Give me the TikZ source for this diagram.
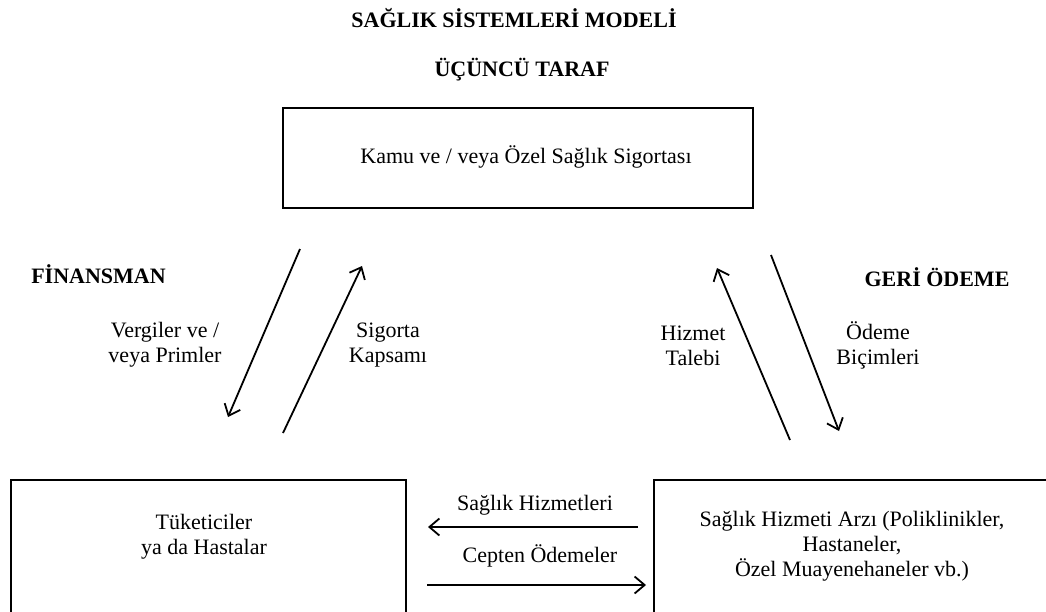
\documentclass[tikz,border=0pt]{standalone}
\usepackage{fontspec}
\setmainfont{Liberation Serif}
\usetikzlibrary{arrows.meta}

\begin{document}
\begin{tikzpicture}[x=1pt, y=-1pt, line width=1.8pt,
  txt/.style={font=\fontsize{22}{25}\selectfont, align=center, inner sep=0pt},
  head/.style={font=\fontsize{22}{25}\selectfont\bfseries, inner sep=0pt},
  box/.style={draw, line width=2pt, inner sep=0pt},
  flow/.style={-{Straight Barb[length=10pt, width=17pt, line width=1.8pt]}}]
\useasboundingbox (0,0) rectangle (1046,611);
\clip (0,0) rectangle (1046,611);

% headings
\node[head] (title) at (514,18) {SAĞLIK SİSTEMLERİ MODELİ};
\node[head] (third) at (522,70) {ÜÇÜNCÜ TARAF};
\node[head] (finance) at (98.5,274) {FİNANSMAN};
\node[head] (reimb) at (937,277) {GERİ ÖDEME};

% the three actors
\node[box, minimum width=470pt, minimum height=100pt] (insurer) at (518,158) {};
\node[txt] (insurertxt) at (526,157) {Kamu ve / veya Özel Sağlık Sigortası};

\node[box, minimum width=395pt, minimum height=160pt] (consumer) at (208.5,560) {};
\node[txt] (consumertxt) at (204,537) {Tüketiciler\\ya da Hastalar};

\node[box, minimum width=420pt, minimum height=160pt] (provider) at (864,560) {};
\node[txt] (providertxt) at (852,546) {Sağlık Hizmeti Arzı (Poliklinikler,\\Hastaneler,\\Özel Muayenehaneler vb.)};

% connector end points
\coordinate (taxA) at (300,249);
\coordinate (taxB) at (228,417);
\coordinate (covA) at (283,433);
\coordinate (covB) at (362,266);
\coordinate (demA) at (790,440);
\coordinate (demB) at (717,268);
\coordinate (payA) at (771,255);
\coordinate (payB) at (839,431);
\coordinate (svcA) at (638,527);
\coordinate (svcB) at (428,527);
\coordinate (oopA) at (427,585);
\coordinate (oopB) at (646,585);

% flows
\draw[flow] (taxA) -- (taxB);
\draw[flow] (covA) -- (covB);
\draw[flow] (demA) -- (demB);
\draw[flow] (payA) -- (payB);
\draw[flow] (svcA) -- (svcB);
\draw[flow] (oopA) -- (oopB);

% flow labels
\node[txt] (taxlbl) at (165,345) {Vergiler ve /\\veya Primler};
\node[txt] (covlbl) at (388,345) {Sigorta\\Kapsamı};
\node[txt] (demlbl) at (693,346) {Hizmet\\Talebi};
\node[txt] (paylbl) at (878,345) {Ödeme\\Biçimleri};
\node[txt] (svclbl) at (535,505) {Sağlık Hizmetleri};
\node[txt] (ooplbl) at (540,556) {Cepten Ödemeler};
\end{tikzpicture}
\end{document}
